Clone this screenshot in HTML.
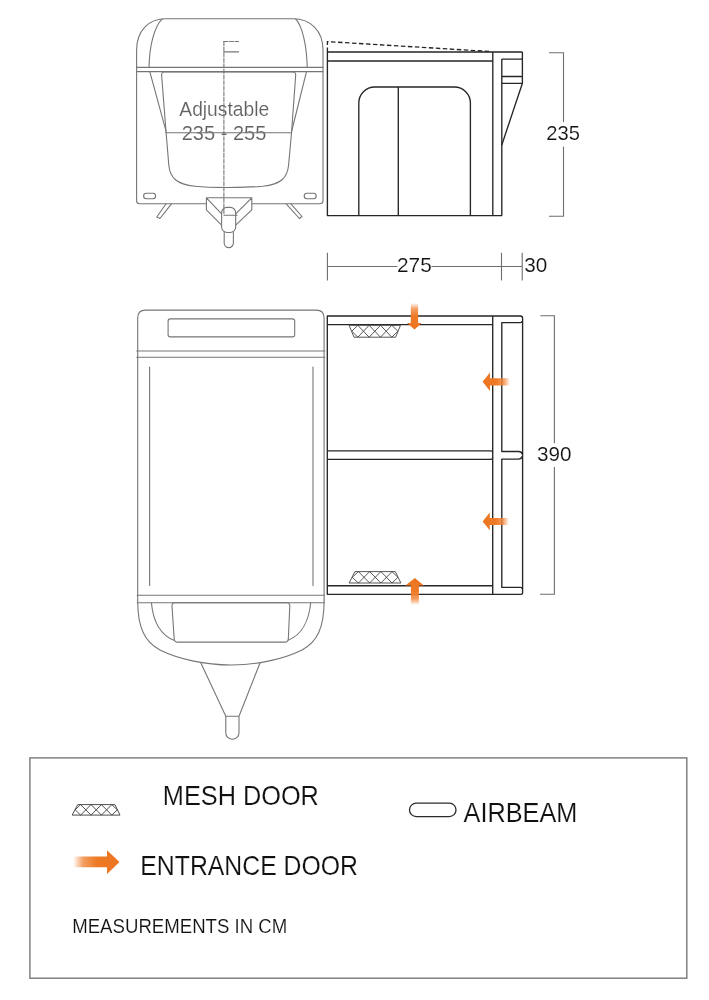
<!DOCTYPE html>
<html lang="en">
<head>
<meta charset="utf-8">
<title>Awning dimensions</title>
<style>
html,body{margin:0;padding:0;background:#fff;}
body{width:709px;height:1000px;overflow:hidden;position:relative;}
svg{position:absolute;left:0;top:0;display:block;filter:blur(0.35px);}
text{font-family:"Liberation Sans",sans-serif;}
.c{fill:none;stroke:#767676;stroke-width:1.1;stroke-linecap:round;stroke-linejoin:round;}
.a{fill:none;stroke:#262626;stroke-width:1.35;stroke-linejoin:round;}
.d{fill:none;stroke:#6e6e6e;stroke-width:1.1;}
.m{fill:none;stroke:#444;stroke-width:0.9;}
.t{fill:#111;stroke:#fff;stroke-width:0.15;}
.g{fill:#606060;stroke:#fff;stroke-width:0.15;}
</style>
</head>
<body>
<svg width="709" height="1000" viewBox="0 0 709 1000">
<defs>
<linearGradient id="fd" x1="0" y1="0" x2="0" y2="1"><stop offset="0" stop-color="#f58a3a" stop-opacity="0"/><stop offset="0.22" stop-color="#f2853a" stop-opacity="0.8"/><stop offset="0.5" stop-color="#ee7a26" stop-opacity="1"/><stop offset="1" stop-color="#ec7420"/></linearGradient>
<linearGradient id="fu" x1="0" y1="1" x2="0" y2="0"><stop offset="0" stop-color="#f58a3a" stop-opacity="0"/><stop offset="0.22" stop-color="#f2853a" stop-opacity="0.8"/><stop offset="0.5" stop-color="#ee7a26" stop-opacity="1"/><stop offset="1" stop-color="#ec7420"/></linearGradient>
<linearGradient id="fl" x1="1" y1="0" x2="0" y2="0"><stop offset="0" stop-color="#f58a3a" stop-opacity="0"/><stop offset="0.22" stop-color="#f2853a" stop-opacity="0.8"/><stop offset="0.5" stop-color="#ee7a26" stop-opacity="1"/><stop offset="1" stop-color="#ec7420"/></linearGradient>
<linearGradient id="fr" x1="0" y1="0" x2="1" y2="0"><stop offset="0" stop-color="#f58a3a" stop-opacity="0"/><stop offset="0.22" stop-color="#f2853a" stop-opacity="0.8"/><stop offset="0.5" stop-color="#ee7a26" stop-opacity="1"/><stop offset="1" stop-color="#ec7420"/></linearGradient>
</defs>

<!-- ===== caravan front view ===== -->
<g class="c" id="front">
<path d="M166 18.8 H293 C311 18.8 323 31 323 50 V200.8 Q323 203.8 320 203.8 H252 M206.4 203.8 H139.6 Q136.6 203.8 136.6 200.8 V50 C136.6 31 148 18.8 166 18.8"/>
<path d="M162.2 18.8 C154 27 149.5 46 149 67.4"/>
<path d="M295.6 18.8 C302.5 26 306.8 46 307.2 67.4"/>
<path d="M136.6 67.4 H323 M136.6 71.6 H323"/>
<path d="M149.8 71.6 L166 131.2"/>
<path d="M306.5 71.6 L291.6 131.5"/>
<path d="M166.1 132.8 L161.6 75 Q161.5 72 164.3 72 H293 Q295.8 72 295.7 75 L291.5 133"/>
<path d="M166.1 132.8 L168.8 165 C170 178 176.5 184.2 195 186.3 C210 187.9 245 187.9 262.8 186.3 C281 184.2 287.3 178 288.6 165 L291.5 133"/>
<rect x="143.6" y="193.2" width="12" height="5.5" rx="2.7"/>
<rect x="304.2" y="193.2" width="12" height="5.5" rx="2.7"/>
<path d="M166.1 203.8 L156.8 217 L159.9 218.5 L171.5 203.8"/>
<path d="M290.9 203.8 L302 216.5 L299.4 218.5 L286.2 203.8"/>
<path d="M206.4 197.8 H251.8 V209.9 L235.7 225.1 M221.6 225.1 L206.4 209.9 V197.8 L221.6 213.9 M251.8 197.8 L235.7 213.9"/>
<rect x="221.6" y="207.4" width="14.1" height="25.1" rx="5.5" fill="#fff"/>
<path d="M223.9 215.2 H237"/>
<path d="M224.2 232.5 V243 A4.6 4.6 0 0 0 233.4 243 V232.5" />
</g>
<text class="g" x="179.3" y="115.7" font-size="19.7" textLength="89.9" lengthAdjust="spacingAndGlyphs" xml:space="preserve">Adjustable</text>
<text class="g" x="181.7" y="139.7" font-size="20.2" textLength="84.6" lengthAdjust="spacingAndGlyphs" xml:space="preserve">235 - 255</text>
<g class="c"><path d="M166.1 132.8 H291.5"/><path d="M223.9 41.5 V215" stroke-dasharray="4 1.6"/><path d="M223.9 41.5 H238.5" stroke-dasharray="4 1.6"/><path d="M223.9 51.9 H238.5"/></g>

<!-- ===== awning side view ===== -->
<g class="a" id="side">
<path d="M327.4 52 H522.4 M327.4 61 H492.8 M327.4 52 V215.6 H502.2"/>
<path d="M492.8 52 V215.6 M501.8 59.1 V215.6"/>
<path d="M501.8 59.1 H521 Q522.6 59.1 522.4 57.5 M501.8 76.5 H521 Q522.6 76.5 522.4 78.2 M501.8 83.3 H522.4 M522.4 52 V83.3 L501.8 145"/>
<path d="M358.8 215.6 V103 A16 16 0 0 1 374.8 87 H454.4 A16 16 0 0 1 470.4 103 V215.6 M398.3 87 V215.6"/>
<path d="M327.4 52 V41.6 L492 51.6" stroke-dasharray="4.5 2.5"/>
</g>

<!-- dimension lines top -->
<g class="d">
<path d="M549 52.7 H563.5 V122 M563.5 146.8 V216.3 H549"/>
<path d="M327.4 252.7 V280.4 M501.5 252.7 V280.4 M522.2 252.7 V280.4 M327.4 266.5 H397.4 M431.5 266.5 H522.2"/>
</g>
<text class="t" x="546.3" y="139.5" font-size="20.2" textLength="33.6" lengthAdjust="spacingAndGlyphs" xml:space="preserve">235</text>
<text class="t" x="397.0" y="272.1" font-size="20.2" textLength="34.7" lengthAdjust="spacingAndGlyphs" xml:space="preserve">275</text>
<text class="t" x="524.3" y="272.1" font-size="20.2" textLength="23.0" lengthAdjust="spacingAndGlyphs" xml:space="preserve">30</text>

<!-- ===== caravan plan view ===== -->
<g class="c" id="plan">
<path d="M137.7 600 V318 Q137.7 310.1 145.5 310.1 H316.2 Q324.1 310.1 324.1 318 V600"/>
<rect x="168.1" y="318.9" width="126.6" height="18" rx="2.2"/>
<path d="M136.8 351 H324.8 M136.8 357.3 H324.8"/>
<path d="M149.6 367 V585.5 M313 367 V585.5"/>
<path d="M137.2 595.3 H324.6 M137.2 602.8 H324.6"/>
<path d="M137.7 600 C137.5 628 145 642 160 650 C178 659 205 665 231 665 C257 665 284 659 302 650 C317 642 324.3 628 324.1 600"/>
<path d="M151.4 602.8 C153 620 160 635 174.5 640.6"/>
<path d="M310.7 602.8 C309 620 302 635 288 640.2"/>
<path d="M175 602.8 H286.7 Q289.9 602.8 289.8 606 L288.3 639 Q288.1 642.1 285 642.1 H177.5 Q174.4 642.1 174.2 639 L172 606 Q171.9 602.8 175 602.8 Z"/>
<path d="M201 663.3 L225.8 716.3 M259.9 663.3 L239 716.3"/>
<path d="M226.8 716.3 H238 Q239 716.3 239 717.3 V733 A6.6 6.3 0 0 1 225.8 733 V717.3 Q225.8 716.3 226.8 716.3 Z"/>
</g>

<!-- ===== awning plan view ===== -->
<g class="a" id="aplan">
<path d="M327.3 316 H520.4 Q522.6 316 522.6 318.2 V592.8 Q522.6 594.3 521 594.3 H327.3 Z"/>
<path d="M327.3 324.6 H492.7 M327.3 585.7 H492.7 M492.7 316 V594.3"/>
<path d="M327.3 450.8 H491 Q492.7 450.8 492.7 452.5 M327.3 459.3 H491 Q492.7 459.3 492.7 457.6"/>
<path d="M522.2 321 Q522 322.6 520.4 322.6 H501.8 V451.5 H518.6 Q521.6 451.5 522 454.2"/>
<path d="M522 456.4 Q521.6 459.1 518.6 459.1 H501.8 V587.4 H520.6 Q522 587.4 522.2 589"/>
</g>

<!-- mesh doors -->
<g class="m">
<path d="M349.1 325.3 H400.5 L395.6 337.2 H354 Z"/>
<path d="M351.8 331.2 L357.8 325.3 L369.1 337.2 L380.5 325.3 L391.8 337.2 L397.9 331.2 L391.8 325.3 L380.5 337.2 L369.1 325.3 L357.8 337.2 Z"/>
<path d="M349.1 583 H400.9 L395.3 571.6 H354.9 Z"/>
<path d="M352.2 577.3 L358.4 583 L369.6 571.6 L380.9 583 L392 571.6 L397.9 577.3 L392 583 L380.9 571.6 L369.6 583 L358.4 571.6 Z"/>
</g>

<!-- arrows -->
<path d="M410.8 303 H418.1 V322.9 L421.7 323 L414.5 329.6 L407 323 L410.8 322.9 Z" fill="url(#fd)"/>
<path d="M410.9 605 H418.9 V585.5 L423.8 585.5 L414.9 577.9 L405.4 585.5 L410.9 585.5 Z" fill="url(#fu)"/>
<path d="M510 378.2 V385.4 H490 V391.1 L482.6 381.8 L490 372.4 V378.2 Z" fill="url(#fl)"/>
<path d="M509 517.9 V525.1 H489.8 V530.3 L482.6 521.4 L489.8 512.6 V517.9 Z" fill="url(#fl)"/>

<!-- dimension 390 -->
<g class="d">
<path d="M540.4 315.8 H554.4 V443.3 M554.4 467.1 V594.2 H540"/>
</g>
<text class="t" x="537.1" y="460.7" font-size="20.2" textLength="34.5" lengthAdjust="spacingAndGlyphs" xml:space="preserve">390</text>

<!-- ===== legend ===== -->
<rect x="29.9" y="757.9" width="656.9" height="220.3" fill="none" stroke="#777" stroke-width="1.4"/>
<g class="m" style="stroke:#3a3a3a;stroke-width:0.9">
<path d="M77.7 804.6 H114.9 L120 815.1 H72.2 Z"/>
<path d="M75.2 809.8 L80.6 804.6 L91 815.1 L101.4 804.6 L111.8 815.1 L117.3 809.8 L111.8 804.6 L101.4 815.1 L91 804.6 L80.6 815.1 Z"/>
</g>
<path d="M73 856.6 H107 V850.3 L119.5 862 L107 873.9 V867.3 H73 Z" fill="url(#fr)"/>
<text class="t" x="162.8" y="805.4" font-size="27.7" textLength="156.1" lengthAdjust="spacingAndGlyphs" xml:space="preserve">MESH DOOR</text>
<text class="t" x="140.3" y="874.6" font-size="27.7" textLength="217.7" lengthAdjust="spacingAndGlyphs" xml:space="preserve">ENTRANCE DOOR</text>
<text class="t" x="463.6" y="821.9" font-size="27.7" textLength="113.8" lengthAdjust="spacingAndGlyphs" xml:space="preserve">AIRBEAM</text>
<text class="t" x="72.2" y="933.0" font-size="20.4" textLength="215.1" lengthAdjust="spacingAndGlyphs" xml:space="preserve">MEASUREMENTS IN CM</text>
<rect x="409.5" y="803.2" width="46.5" height="13.4" rx="6.7" fill="none" stroke="#2b2b2b" stroke-width="1.3"/>
</svg>
</body>
</html>
